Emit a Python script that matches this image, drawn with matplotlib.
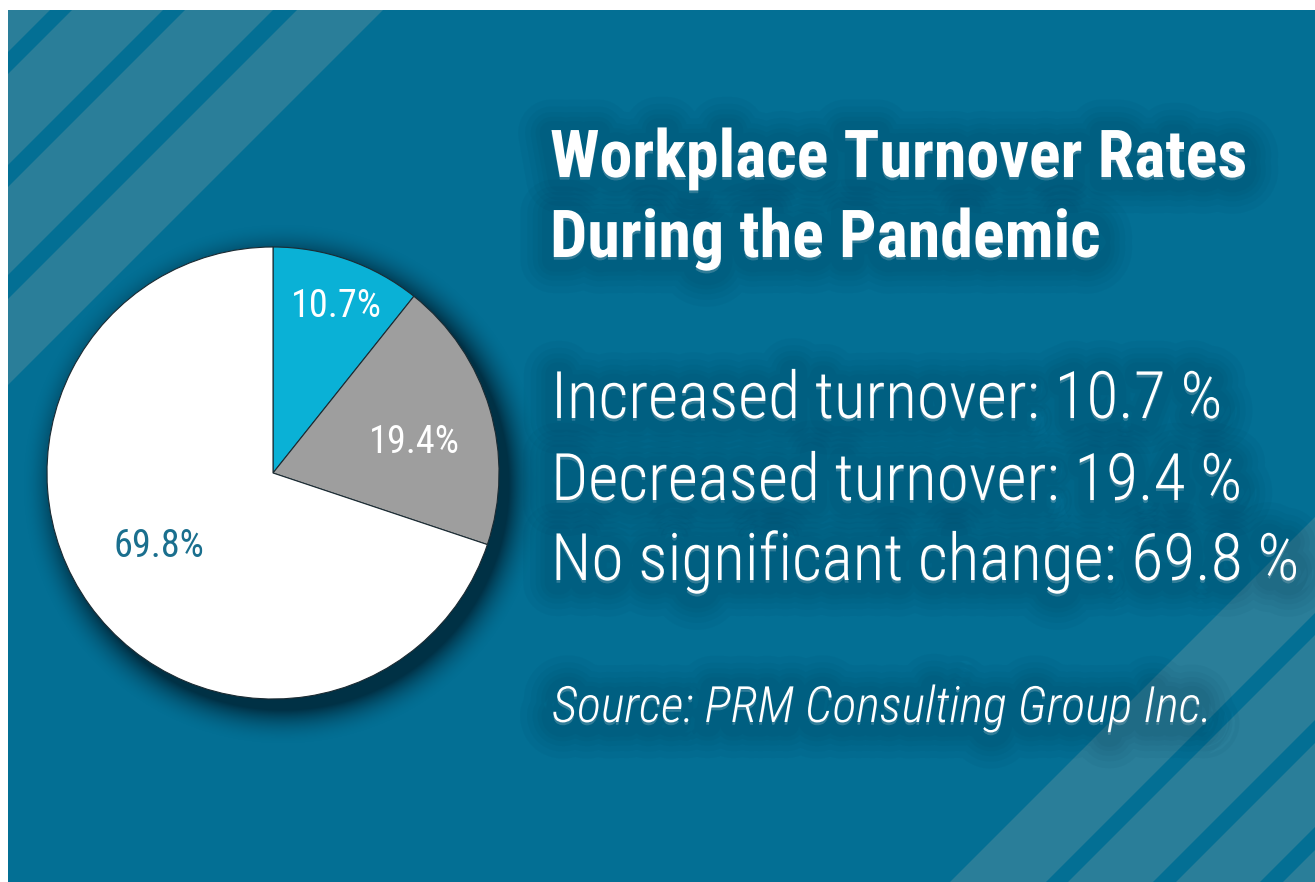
import numpy as np
import matplotlib
matplotlib.use('Agg')
import matplotlib.pyplot as plt
from matplotlib import font_manager as fm
from matplotlib.patches import Rectangle, Polygon
import matplotlib.patheffects as pe

# ---------------- data ----------------
categories = ['Increased turnover', 'Decreased turnover', 'No significant change']
values = [10.7, 19.4, 69.8]
title_lines = ['Workplace Turnover Rates', 'During the Pandemic']
source_text = 'Source: PRM Consulting Group Inc.'

# ---------------- fonts ----------------
def wnum(w):
    if isinstance(w, str):
        return fm.weight_dict.get(w, 400)
    return int(w)

def is_cond(f):
    n = f.name.lower()
    return ('condensed' in n or 'narrow' in n or
            str(f.stretch) in ('condensed', 'semi-condensed', 'extra-condensed'))

FAM_PREF = ['Roboto Condensed', 'Liberation Sans Narrow', 'Noto Sans', 'Open Sans',
            'Roboto', 'Noto Sans Condensed', 'DejaVu Sans', 'Liberation Sans', 'Lato', 'Inter']

def find_font(target_w, italic):
    ents = fm.fontManager.ttflist
    def rank(f):
        fam_r = FAM_PREF.index(f.name) if f.name in FAM_PREF else len(FAM_PREF)
        it = f.style in ('italic', 'oblique')
        return (0 if is_cond(f) else 1, 0 if it == italic else 1,
                abs(wnum(f.weight) - target_w), fam_r)
    cands = sorted(ents, key=rank)
    return cands[0].fname

f_title = find_font(700, False)
f_body = find_font(300, False)
f_src = find_font(300, True)
f_lbl = find_font(400, False)

def fp(path, size):
    p = fm.FontProperties(fname=path)
    p.set_size(size)
    return p

# ---------------- canvas ----------------
W, H = 1315, 882
fig = plt.figure(figsize=(W / 100, H / 100), dpi=100, facecolor='white')
bg = fig.add_axes([0, 0, 1, 1])
bg.set_xlim(0, W)
bg.set_ylim(H, 0)
bg.axis('off')

BG = '#036f94'
STRIPE = '#2a7e99'
panel = Rectangle((8, 10), W - 8, H - 10, facecolor=BG, edgecolor='none', zorder=0)
bg.add_patch(panel)

def band(s0, s1):
    poly = Polygon([(s0 + 3000, -3000), (s1 + 3000, -3000), (s1 - 3000, 3000), (s0 - 3000, 3000)],
                   closed=True, facecolor=STRIPE, edgecolor='none', zorder=0.5)
    bg.add_patch(poly)
    poly.set_clip_path(panel)

for s0, s1 in [(-3000, 60), (82, 173), (195, 283), (307, 393),
               (1832, 1928), (1950, 2035), (2058, 2142), (2165, 6000)]:
    band(s0, s1)

# pie geometry (pixels)
cx, cy, R = 273, 473, 226

# soft drop shadow behind pie
yy, xx = np.mgrid[0:H, 0:W] + 0.5
d = np.hypot(xx - (cx + 10), yy - (cy + 11))
a = np.clip(1 - (d - R) / 36.0, 0, 1) ** 2 * 0.75
img = np.zeros((H, W, 4))
img[..., 0] = 0.0
img[..., 1] = 0.11
img[..., 2] = 0.17
img[..., 3] = a
im = bg.imshow(img, extent=(0, W, H, 0), zorder=1, interpolation='bilinear', aspect='auto')
im.set_clip_path(panel)
bg.set_xlim(0, W)
bg.set_ylim(H, 0)

# ---------------- pie ----------------
pax = fig.add_axes([(cx - R) / W, (H - cy - R) / H, 2 * R / W, 2 * R / H])
wedges, _ = pax.pie(values, startangle=90, counterclock=False,
                    colors=['#0ab1d6', '#9e9e9e', '#ffffff'],
                    wedgeprops=dict(edgecolor='#1b2b33', linewidth=0.8))
for w in wedges:
    w.set_clip_on(False)
pax.set_xlim(-1, 1)
pax.set_ylim(-1, 1)
pax.set_aspect('equal')
pax.axis('off')

lbl_r = [0.79, 0.64, 0.60]
lbl_da = [-1.6, -4.3, -2.8]
lbl_col = ['white', 'white', '#1a6f8e']
lbl_texts = []
for w, v, r, da, c in zip(wedges, values, lbl_r, lbl_da, lbl_col):
    ang = np.deg2rad((w.theta1 + w.theta2) / 2 + da)
    t = pax.text(r * np.cos(ang), r * np.sin(ang), f'{v}%', ha='center', va='center',
                 color=c, fontproperties=fp(f_lbl, 27))
    lbl_texts.append(t)

# ---------------- text ----------------
glow = [pe.Stroke(linewidth=lw, foreground='#00344d', alpha=0.05, offset=(0, -2),
                  joinstyle='round', capstyle='round')
        for lw in (48, 38, 30, 23, 17)] + [pe.Normal()]

t1 = bg.text(550, 177, title_lines[0], ha='left', va='baseline', color='white',
             fontproperties=fp(f_title, 48), path_effects=glow, zorder=5)
t2 = bg.text(550, 257, title_lines[1], ha='left', va='baseline', color='white',
             fontproperties=fp(f_title, 48), path_effects=glow, zorder=5)

body_base = [418, 500, 580]
body = []
for cat, v, yb in zip(categories, values, body_base):
    t = bg.text(551, yb, f'{cat}: {v} %', ha='left', va='baseline', color='white',
                fontproperties=fp(f_body, 46), path_effects=glow, zorder=5)
    body.append(t)

src = bg.text(552, 722, source_text, ha='left', va='baseline', color='white',
              fontproperties=fp(f_src, 38), path_effects=glow, zorder=5)

# fit widths to reference
fig.canvas.draw()
rend = fig.canvas.get_renderer()

def fit(texts, ref, target_w):
    bb = ref.get_window_extent(rend)
    scale = target_w / bb.width
    for t in texts:
        t.set_fontsize(t.get_fontsize() * scale)

fit([t1, t2], t1, 1247 - 550)
fit(body, body[0], 1222 - 551)
fit([src], src, 1212 - 552)
fit(lbl_texts, lbl_texts[0], 91)

fig.savefig('out.png', dpi=100, facecolor='white')
